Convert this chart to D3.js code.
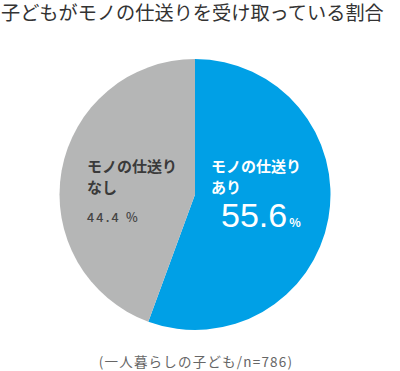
<!DOCTYPE html>
<html>
<head>
<meta charset="utf-8">
<script src="https://cdn.jsdelivr.net/npm/d3@7"></script>
<style>
  body { margin: 0; background: #fff; }
  text { font-family: "Noto Sans CJK JP", "Noto Sans", sans-serif; }
</style>
</head>
<body>
<div id="chart"></div>
<script>
// data
const categories = ["モノの仕送りあり", "モノの仕送りなし"];
const values = [55.6, 44.4];
const labelLines = [["モノの仕送り", "あり"], ["モノの仕送り", "なし"]];
const colors = ["#00a0e6", "#b5b6b6"];

const width = 400;
const height = 371;
const radius = 135.5;
const cx = 195, cy = 194.5;

const svg = d3.select("#chart")
    .append("svg")
    .attr("width", width)
    .attr("height", height);

// title
svg.append("text")
    .attr("x", 1)
    .attr("y", 20)
    .attr("font-size", 19.2)
    .attr("fill", "#333")
    .text("子どもがモノの仕送りを受け取っている割合");

const g = svg.append("g")
    .attr("transform", `translate(${cx},${cy})`);

const pie = d3.pie()
    .sort(null)
    .value(d => d);

const arc = d3.arc()
    .innerRadius(0)
    .outerRadius(radius);

g.selectAll("path")
    .data(pie(values))
    .enter()
    .append("path")
    .attr("d", arc)
    .attr("fill", (d, i) => colors[i]);

// labels - blue slice (right)
const right = g.append("g").attr("transform", "translate(16,0)");
right.selectAll("text.cat")
    .data(labelLines[0])
    .enter()
    .append("text")
    .attr("class", "cat")
    .attr("x", 0)
    .attr("y", (d, i) => -23 + i * 21)
    .attr("font-size", 15)
    .attr("font-weight", "bold")
    .attr("fill", "#fff")
    .text(d => d);

const big = right.append("text")
    .attr("x", 10)
    .attr("y", 32.5)
    .attr("fill", "#fff");
big.append("tspan")
    .attr("font-family", "Liberation Sans, Arial, sans-serif")
    .attr("font-size", 34)
    .text(values[0]);
big.append("tspan")
    .attr("font-size", 12)
    .attr("font-weight", "bold")
    .attr("dx", 2)
    .text("%");

// labels - gray slice (left)
const left = g.append("g").attr("transform", "translate(-108,0)");
left.selectAll("text.cat")
    .data(labelLines[1])
    .enter()
    .append("text")
    .attr("class", "cat")
    .attr("x", 0)
    .attr("y", (d, i) => -23 + i * 21)
    .attr("font-size", 15)
    .attr("font-weight", "bold")
    .attr("fill", "#3a3a3a")
    .text(d => d);

left.append("text")
    .attr("x", 0)
    .attr("y", 27.5)
    .attr("font-size", 12.5)
    .attr("font-weight", 500)
    .attr("letter-spacing", 2.2)
    .attr("fill", "#444")
    .text(values[1] + " %");

// footnote
svg.append("text")
    .attr("x", 196)
    .attr("y", 367)
    .attr("text-anchor", "middle")
    .attr("font-size", 13.5)
    .attr("letter-spacing", 1.2)
    .attr("fill", "#666")
    .text("(一人暮らしの子ども/n=786)");
</script>
</body>
</html>
